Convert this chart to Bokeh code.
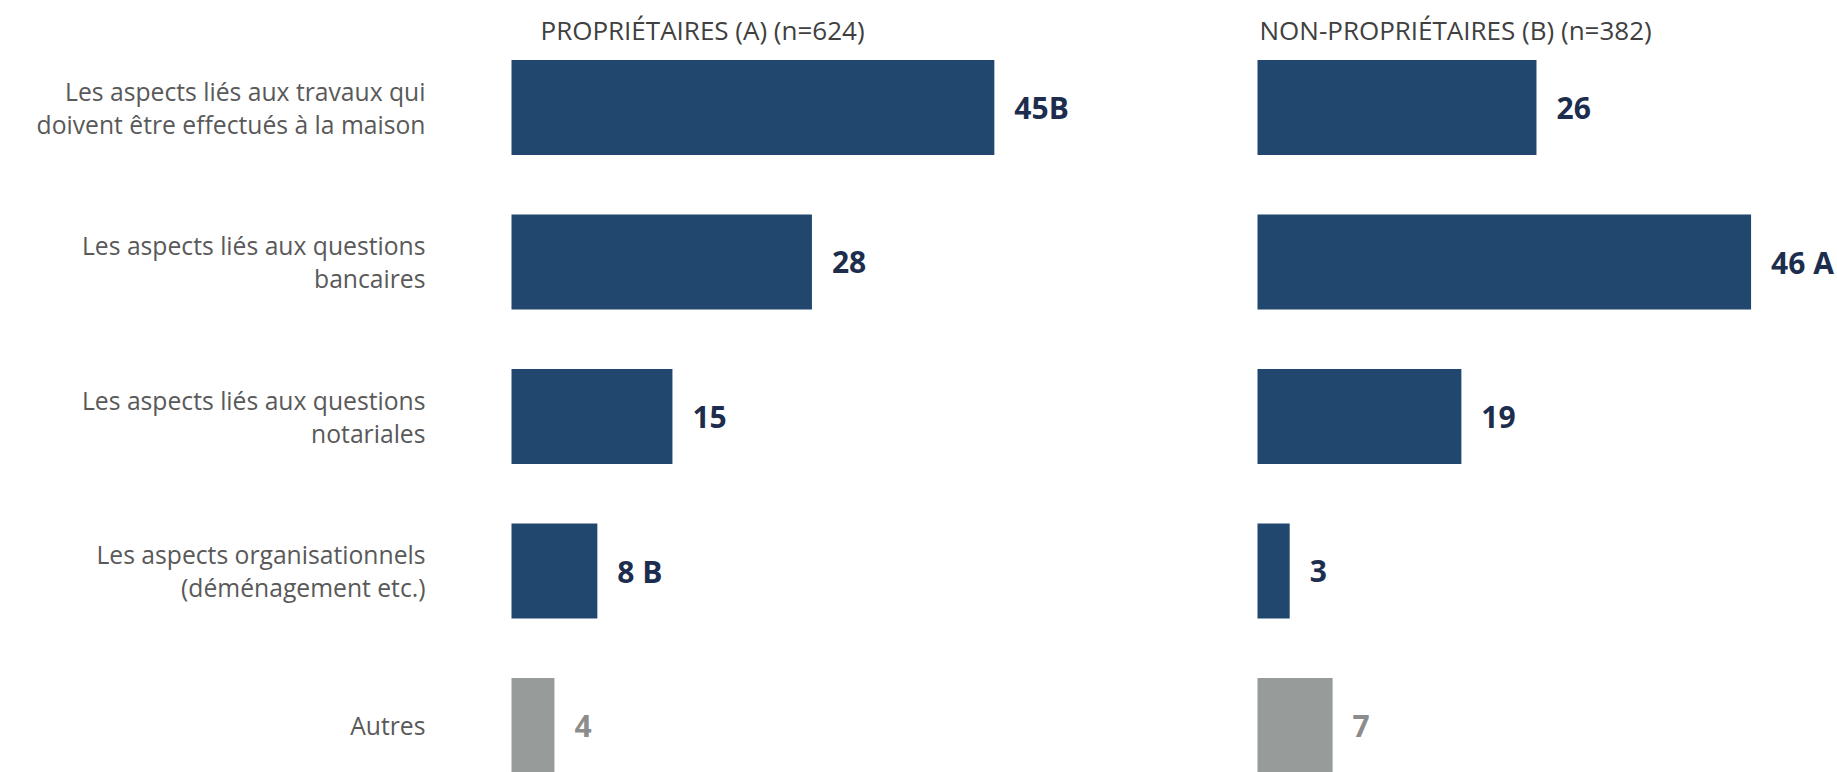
from bokeh.plotting import figure
from bokeh.layouts import row
from bokeh.models import ColumnDataSource, Range1d
from bokeh.core.properties import value
from bokeh.embed import file_html
from bokeh.resources import INLINE

# ---------------- data ----------------
categories = [
    "Les aspects liés aux travaux qui\ndoivent être effectués à la maison",
    "Les aspects liés aux questions\nbancaires",
    "Les aspects liés aux questions\nnotariales",
    "Les aspects organisationnels\n(déménagement etc.)",
    "Autres",
]
owners = [45, 28, 15, 8, 4]
owners_sig = ["B", "", "", " B", ""]
non_owners = [26, 46, 19, 3, 7]
non_owners_sig = ["", " A", "", "", ""]
is_other = [False, False, False, False, True]
titles = ["PROPRIÉTAIRES (A) (n=624)", "NON-PROPRIÉTAIRES (B) (n=382)"]

# ---------------- layout / style ----------------
PX_PER_UNIT = 10.73
ROW_PX = 154.5
H = 772
FIRST_ROW_PX = 107
Y_TOP = -FIRST_ROW_PX / ROW_PX
Y_BOTTOM = Y_TOP + H / ROW_PX
BAR_H = 0.615
TITLE_PX = 29

NAVY = "#22476F"
GREY_BAR = "#979C9B"
NAVY_TXT = "#1C2D4D"
GREY_TXT = "#8C8C8C"
CAT_TXT = "#595959"
TITLE_TXT = "#404040"
FONT = "Open Sans"


def make_panel(width, origin_px, vals, sig, title, title_dx, with_cats):
    x0 = -origin_px / PX_PER_UNIT
    x1 = x0 + width / PX_PER_UNIT
    p = figure(width=width, height=H, output_backend="svg", toolbar_location=None,
               x_range=Range1d(x0, x1), y_range=Range1d(Y_BOTTOM, Y_TOP),
               min_border=0, min_border_left=0, min_border_right=0,
               min_border_top=0, min_border_bottom=0)
    p.axis.visible = False
    p.grid.visible = False
    p.outline_line_color = None
    p.background_fill_color = "white"
    p.border_fill_color = "white"

    ys = list(range(len(vals)))
    src = ColumnDataSource(dict(
        y=ys, v=vals,
        label=[f"{v}{s}" for v, s in zip(vals, sig)],
        color=[GREY_BAR if o else NAVY for o in is_other],
        lcolor=[GREY_TXT if o else NAVY_TXT for o in is_other],
        cat=categories,
    ))
    p.hbar(y="y", left=0, right="v", height=BAR_H, fill_color="color",
           line_color=None, source=src)
    p.text(x="v", y="y", text="label", x_offset=20, text_baseline="middle",
           text_align="left", text_font=value(FONT), text_font_style="bold",
           text_font_size="30px", text_color="lcolor", source=src)
    if with_cats:
        p.text(x=0, y="y", text="cat", x_offset=-86, text_align="right",
               text_baseline="middle", text_font=value(FONT),
               text_font_size="24.7px", text_line_height=1.0,
               text_color=CAT_TXT, source=src)
    p.text(x=[0], y=[Y_TOP + TITLE_PX / ROW_PX], text=[title], x_offset=title_dx,
           text_align="left", text_baseline="middle", text_font=value(FONT),
           text_font_size="26px", text_color=TITLE_TXT)
    return p


left = make_panel(1250, 511, owners, owners_sig, titles[0], 29, True)
right = make_panel(587, 7, non_owners, non_owners_sig, titles[1], 2, False)

layout = row(left, right, spacing=0)
open("out.html", "w").write(file_html(layout, INLINE))
